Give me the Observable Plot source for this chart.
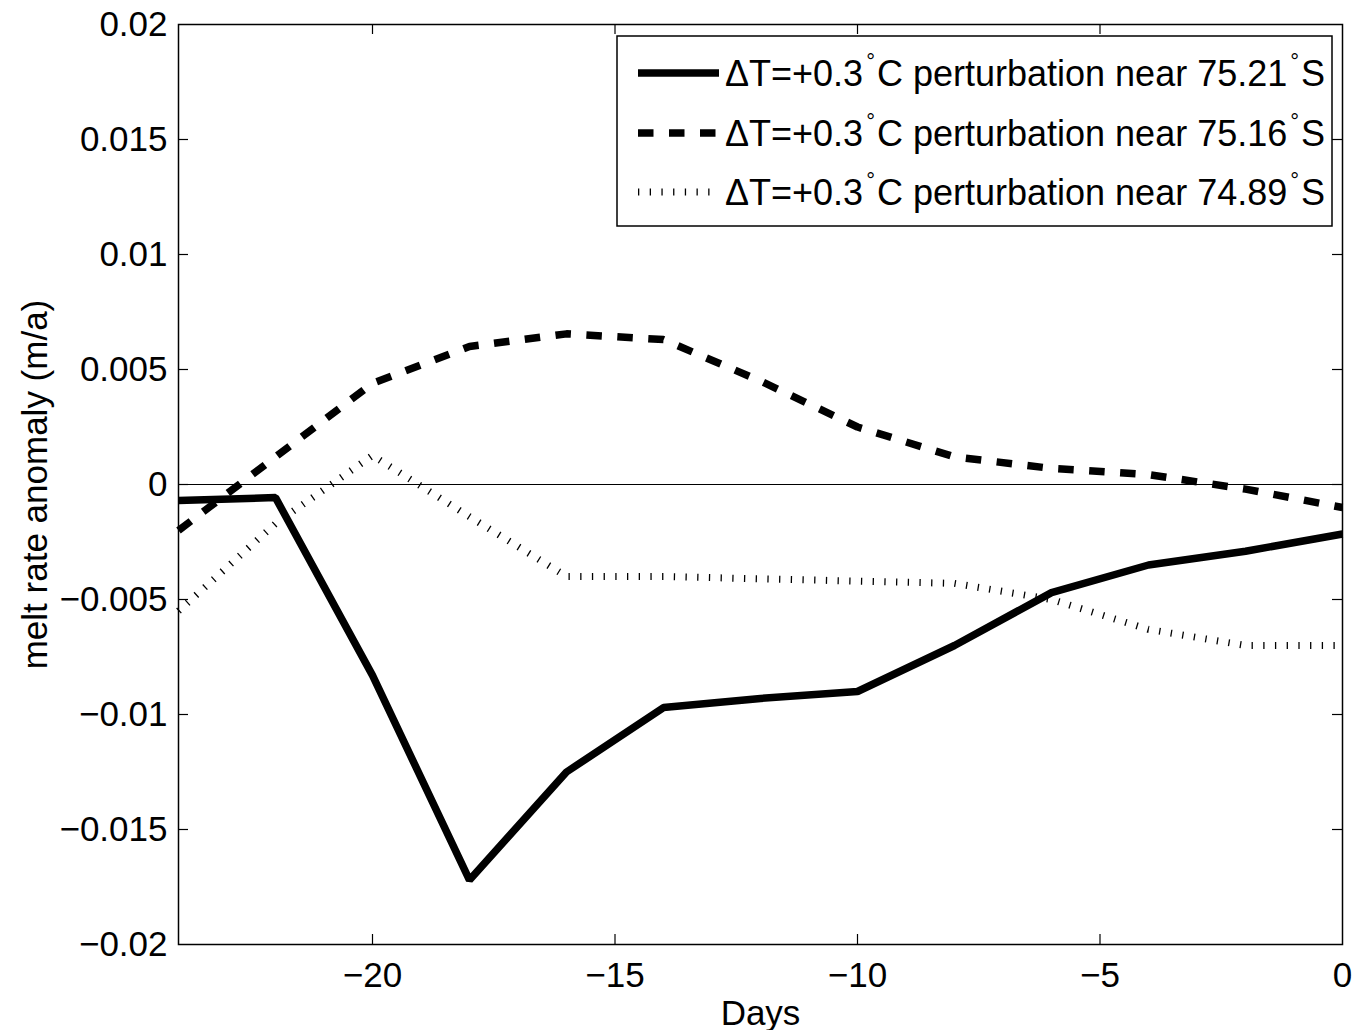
<!DOCTYPE html>
<html><head><meta charset="utf-8">
<script src="https://cdn.jsdelivr.net/npm/d3@7"></script>
<script src="https://cdn.jsdelivr.net/npm/@observablehq/plot@0.6"></script>
<style>body{margin:0;background:#fff}#chart{width:1368px;height:1030px}</style>
</head><body><div id="chart"></div>
<script>
// ---- data ----
const days = [-24, -22, -20, -18, -16, -14, -12, -10, -8, -6, -4, -2, 0];
const melt7521 = [-0.0007, -0.00057, -0.0083, -0.0172, -0.0125, -0.0097, -0.0093, -0.0090, -0.0070, -0.0047, -0.0035, -0.0029, -0.00215];
const melt7516 = [-0.0020, 0.0012, 0.0044, 0.0060, 0.00655, 0.0063, 0.0045, 0.0025, 0.0012, 0.0007, 0.00043, -0.0002, -0.0010];
const melt7489 = [-0.0055, -0.0017, 0.00126, -0.0014, -0.0040, -0.0040, -0.0041, -0.0042, -0.0043, -0.0050, -0.0063, -0.0070, -0.0070];
const latitudes = ["75.21", "75.16", "74.89"];
const xTicks = [-20, -15, -10, -5, 0];
const yTicks = [-0.02, -0.015, -0.01, -0.005, 0, 0.005, 0.01, 0.015, 0.02];
const xLabel = "Days";
const yLabel = "melt rate anomaly (m/a)";

// ---- layout ----
const W = 1368, H = 1030, mL = 178, mR = 26, mT = 24, mB = 86;
const xDom = [-24, 0], yDom = [-0.02, 0.02];
const tickPx = 10;
const dyTick = tickPx * (yDom[1] - yDom[0]) / (H - mT - mB);
const dxTick = tickPx * (xDom[1] - xDom[0]) / (W - mL - mR);
const FONT = "'Liberation Sans', Arial, Helvetica, sans-serif";

const series = [
  {values: melt7521, width: 7.5, dash: null},
  {values: melt7516, width: 7.5, dash: "15.5,15.5"},
  {values: melt7489, width: 7, dash: "1.3,10.4"}
];
const rows = series.map(s => days.map((d, i) => ({day: d, v: s.values[i]})));

const fmt = d => d === 0 ? "0" : String(+d.toFixed(3)).replace("-", "\u2212");
const innerX = xTicks.filter(t => t > xDom[0] && t < xDom[1]);
const innerY = yTicks.filter(t => t > yDom[0] && t < yDom[1]);

const plot = Plot.plot({
  width: W, height: H,
  marginLeft: mL, marginRight: mR, marginTop: mT, marginBottom: mB,
  style: {fontFamily: FONT, fontSize: "34px", color: "black", background: "white"},
  x: {domain: xDom},
  y: {domain: yDom},
  marks: [
    Plot.ruleY([0], {stroke: "black", strokeWidth: 1.2}),
    ...series.map((s, k) => Plot.line(rows[k], {
      x: "day", y: "v", stroke: "black", strokeWidth: s.width,
      strokeDasharray: s.dash, strokeLinejoin: "miter", strokeLinecap: "butt"
    })),
    // inward ticks on all four sides
    Plot.ruleX(innerX, {x: d => d, y1: yDom[0], y2: yDom[0] + dyTick, stroke: "black", strokeWidth: 1.2}),
    Plot.ruleX(innerX, {x: d => d, y1: yDom[1], y2: yDom[1] - dyTick, stroke: "black", strokeWidth: 1.2}),
    Plot.ruleY(innerY, {y: d => d, x1: xDom[0], x2: xDom[0] + dxTick, stroke: "black", strokeWidth: 1.2}),
    Plot.ruleY(innerY, {y: d => d, x1: xDom[1], x2: xDom[1] - dxTick, stroke: "black", strokeWidth: 1.2}),
    Plot.frame({stroke: "black", strokeWidth: 1.5}),
    Plot.axisX({ticks: xTicks, tickSize: 0, tickPadding: 18, tickFormat: fmt, label: null, fontSize: 35}),
    Plot.axisY({ticks: yTicks, tickSize: 0, tickPadding: 11, tickFormat: fmt, label: null, fontSize: 35}),
    Plot.text([xLabel], {frameAnchor: "bottom", dy: 80, lineAnchor: "bottom", textAnchor: "middle", fontSize: 35, fill: "black"}),
    Plot.text([yLabel], {frameAnchor: "left", dx: -143, rotate: -90, textAnchor: "middle", lineAnchor: "middle", fontSize: 35, fill: "black"})
  ]
});
document.getElementById("chart").appendChild(plot);

// ---- legend (inside the plot, top right) ----
const svg = d3.select(plot.tagName.toLowerCase() === "svg" ? plot : plot.querySelector("svg"));
const lg = svg.append("g").attr("font-family", FONT).attr("fill", "black").attr("text-anchor", "start");
lg.append("rect").attr("x", 617).attr("y", 36).attr("width", 715).attr("height", 190)
  .attr("fill", "white").attr("stroke", "black").attr("stroke-width", 1.5);
const rowY = [73, 133, 192];
series.forEach((s, k) => {
  lg.append("line").attr("x1", 638).attr("x2", 719).attr("y1", rowY[k]).attr("y2", rowY[k])
    .attr("stroke", "black").attr("stroke-width", s.width)
    .attr("stroke-dasharray", s.dash).attr("stroke-linecap", "butt");
  const t = lg.append("text").attr("x", 725).attr("y", rowY[k] + 13).attr("font-size", 36)
    .attr("text-anchor", "start");
  t.append("tspan").text("\u0394T=+0.3");
  t.append("tspan").attr("dy", -17).attr("dx", 3).attr("font-size", 22).text("\u00b0");
  t.append("tspan").attr("dy", 17).attr("dx", 2).text("C perturbation near " + latitudes[k]);
  t.append("tspan").attr("dy", -17).attr("dx", 3).attr("font-size", 22).text("\u00b0");
  t.append("tspan").attr("dy", 17).attr("dx", 2).text("S");
});
</script></body></html>
